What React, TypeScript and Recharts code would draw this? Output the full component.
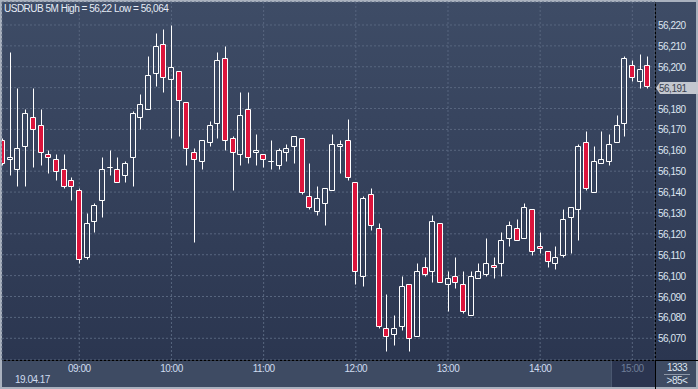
import React from 'react';
import { ComposedChart, Bar, XAxis, YAxis, CartesianGrid, ReferenceLine } from 'recharts';

// 5 minute bars, 19.04.17
const TIMES = [
  '08:10', '08:15', '08:20', '08:25', '08:30', '08:35', '08:40', '08:45', '08:50', '08:55',
  '09:00', '09:05', '09:10', '09:15', '09:20', '09:25', '09:30', '09:35', '09:40', '09:45', '09:50', '09:55',
  '10:00', '10:05', '10:10', '10:15', '10:20', '10:25', '10:30', '10:35', '10:40', '10:45', '10:50', '10:55',
  '11:00', '11:05', '11:10', '11:15', '11:20', '11:25', '11:30', '11:35', '11:40', '11:45', '11:50', '11:55',
  '12:00', '12:05', '12:10', '12:15', '12:20', '12:25', '12:30', '12:35', '12:40', '12:45', '12:50', '12:55',
  '13:00', '13:05', '13:10', '13:15', '13:20', '13:25', '13:30', '13:35', '13:40', '13:45', '13:50', '13:55',
  '14:00', '14:05', '14:10', '14:15', '14:20', '14:25', '14:30', '14:35', '14:40', '14:45', '14:50', '14:55',
  '15:00', '15:05', '15:10',
];

const OPEN = [
  56.165, 56.156, 56.151, 56.162, 56.176, 56.172, 56.158, 56.156, 56.151, 56.146,
  56.141, 56.109, 56.126, 56.136, 56.152, 56.151, 56.148, 56.157, 56.176, 56.180, 56.197, 56.211,
  56.194, 56.198, 56.183, 56.159, 56.155, 56.164, 56.173, 56.204, 56.166, 56.158, 56.180, 56.159,
  56.158, 56.155, 56.153, 56.159, 56.162, 56.166, 56.138, 56.131, 56.135, 56.141, 56.162, 56.165,
  56.145, 56.100, 56.139, 56.123, 56.075, 56.072, 56.076, 56.096, 56.071, 56.104, 56.102, 56.125,
  56.096, 56.100, 56.096, 56.081, 56.099, 56.101, 56.105, 56.106, 56.118, 56.123, 56.118, 56.132,
  56.114, 56.112, 56.106, 56.110, 56.128, 56.132, 56.164, 56.140, 56.154, 56.155, 56.164, 56.173,
  56.201, 56.193, 56.201,
];

const HIGH = [
  56.166, 56.207, 56.190, 56.180, 56.190, 56.180, 56.160, 56.158, 56.158, 56.147,
  56.142, 56.130, 56.135, 56.157, 56.160, 56.157, 56.155, 56.179, 56.187, 56.205, 56.216, 56.218,
  56.220, 56.198, 56.183, 56.161, 56.165, 56.174, 56.207, 56.210, 56.167, 56.188, 56.188, 56.168,
  56.158, 56.165, 56.161, 56.163, 56.167, 56.166, 56.154, 56.143, 56.142, 56.168, 56.165, 56.175,
  56.145, 56.138, 56.142, 56.125, 56.091, 56.081, 56.100, 56.096, 56.106, 56.109, 56.129, 56.125,
  56.102, 56.109, 56.102, 56.102, 56.106, 56.118, 56.109, 56.121, 56.126, 56.127, 56.135, 56.132,
  56.121, 56.112, 56.114, 56.132, 56.133, 56.163, 56.169, 56.162, 56.169, 56.168, 56.177, 56.205,
  56.203, 56.206, 56.205,
];

const LOW = [
  56.153, 56.148, 56.143, 56.143, 56.152, 56.153, 56.149, 56.146, 56.142, 56.136,
  56.106, 56.108, 56.121, 56.128, 56.148, 56.145, 56.145, 56.143, 56.170, 56.180, 56.191, 56.188,
  56.166, 56.167, 56.153, 56.116, 56.151, 56.162, 56.166, 56.160, 56.141, 56.153, 56.154, 56.153,
  56.152, 56.151, 56.151, 56.155, 56.154, 56.139, 56.132, 56.129, 56.124, 56.141, 56.149, 56.146,
  56.096, 56.095, 56.122, 56.075, 56.064, 56.067, 56.074, 56.064, 56.071, 56.100, 56.097, 56.097,
  56.083, 56.094, 56.082, 56.081, 56.099, 56.100, 56.099, 56.100, 56.114, 56.117, 56.118, 56.110,
  56.111, 56.104, 56.103, 56.109, 56.111, 56.117, 56.141, 56.140, 56.154, 56.153, 56.164, 56.167,
  56.193, 56.190, 56.190,
];

const CLOSE = [
  56.154, 56.157, 56.161, 56.178, 56.170, 56.159, 56.157, 56.150, 56.143, 56.143,
  56.108, 56.125, 56.134, 56.151, 56.152, 56.145, 56.154, 56.178, 56.182, 56.196, 56.210, 56.195,
  56.200, 56.184, 56.161, 56.156, 56.165, 56.172, 56.203, 56.165, 56.159, 56.177, 56.157, 56.160,
  56.156, 56.155, 56.160, 56.161, 56.167, 56.140, 56.133, 56.137, 56.142, 56.163, 56.163, 56.147,
  56.102, 56.137, 56.124, 56.076, 56.071, 56.075, 56.095, 56.070, 56.102, 56.101, 56.126, 56.097,
  56.099, 56.097, 56.083, 56.100, 56.102, 56.106, 56.104, 56.117, 56.124, 56.117, 56.133, 56.112,
  56.113, 56.107, 56.109, 56.127, 56.133, 56.162, 56.142, 56.155, 56.156, 56.163, 56.172, 56.204,
  56.195, 56.199, 56.191,
];

const HOUR_TICKS = ['09:00', '10:00', '11:00', '12:00', '13:00', '14:00', '15:00'];
const PRICE_TICKS = [
  56.07, 56.08, 56.09, 56.1, 56.11, 56.12, 56.13, 56.14, 56.15, 56.16, 56.17, 56.18, 56.19, 56.2, 56.21, 56.22,
];

const RED = '#dc143c';
const FONT = '"Liberation Sans", Arial, sans-serif';
const LAST = CLOSE[CLOSE.length - 1];

const data = TIMES.map((time, i) => ({
  idx: i,
  time,
  open: OPEN[i],
  high: HIGH[i],
  low: LOW[i],
  close: CLOSE[i],
}));

const fmt = (v: number) => v.toFixed(3).replace('.', ',');

function Candle(props: any) {
  const { x, y, width, height, payload } = props;
  if (x == null || y == null || !payload) return null;
  const { open, close, high, low } = payload;
  const top = Math.min(y, y + height);
  const h = Math.abs(height);
  const ppu = high === low ? 0 : h / (high - low);
  const py = (v: number) => Math.round(top + (high - v) * ppu) + 0.5;
  const cx = Math.floor(x + width / 2) + 0.5;
  const yH = py(high);
  const yL = py(low);
  const bTop = py(Math.max(open, close));
  const bBot = py(Math.min(open, close));
  const up = close >= open;
  return (
    <g>
      {bTop > yH && <line x1={cx} x2={cx} y1={yH} y2={bTop} stroke="#fff" strokeWidth={1} />}
      {yL > bBot && <line x1={cx} x2={cx} y1={bBot} y2={yL} stroke="#fff" strokeWidth={1} />}
      <path
        d={`M${cx - 3},${bTop}H${cx + 2}V${bBot}H${cx - 3}Z`}
        fill={up ? 'none' : RED}
        stroke="#fff"
        strokeWidth={1}
      />
    </g>
  );
}

function XTick(props: any) {
  const { x, payload } = props;
  const label = TIMES[payload.value];
  const dim = label === HOUR_TICKS[HOUR_TICKS.length - 1];
  return (
    <text x={x} y={372} textAnchor="middle" fontSize={10} letterSpacing={-0.5} fontFamily={FONT}
      fill={dim ? '#6e7d97' : '#cfdcf0'}>
      {label}
    </text>
  );
}

function YTick(props: any) {
  const { x, y, payload } = props;
  // the last price box covers the tick next to it
  if (Math.abs(payload.value - LAST) < 0.004) return <g />;
  return (
    <text x={x} y={y + 4} textAnchor="start" fontSize={10} letterSpacing={-0.5} fontFamily={FONT} fill="#dde5f0">
      {fmt(payload.value)}
    </text>
  );
}

function PriceLabel(props: any) {
  const vb = props.viewBox || {};
  const x0 = vb.x + vb.width + 1;
  const yc = Math.round(vb.y) + 2;
  return (
    <g>
      <path
        d={`M${x0},${yc} L${x0 + 4},${yc - 6} H698 V${yc + 6} H${x0 + 4} Z`}
        fill="#c3c7cf"
      />
      <text x={x0 + 3} y={yc + 4} fontSize={10} letterSpacing={-0.5} fontFamily={FONT} fill="#3a4150">
        {fmt(LAST)}
      </text>
    </g>
  );
}

export default function App() {
  const hourIdx = HOUR_TICKS.map((t) => TIMES.indexOf(t));
  return (
    <div style={{ position: 'absolute', left: 0, top: 0, width: 698, height: 389, background: '#a9b1be', overflow: 'hidden' }}>
      <div style={{ position: 'absolute', left: 2, top: 2, width: 694, height: 358, background: 'linear-gradient(#3e4c66, #2b3650)' }} />
      <div style={{ position: 'absolute', left: 2, top: 361, width: 694, height: 26, background: '#3e4b63' }} />
      <div style={{ position: 'absolute', left: 611, top: 361, width: 44, height: 26, background: '#2b3550', borderLeft: '1px solid #4a5770', boxSizing: 'border-box' }} />
      <div style={{ position: 'absolute', left: 2, top: 360, width: 696, height: 1, background: '#000' }} />
      <div style={{ position: 'absolute', left: 655, top: 2, width: 1, height: 387, background: '#000' }} />

      <div style={{ position: 'absolute', left: 0, top: 0 }}>
        <ComposedChart width={698} height={389} data={data} margin={{ top: 2, right: 2, bottom: 2, left: 2 }}>
          <CartesianGrid stroke="#58667f" strokeDasharray="2 2" />
          <XAxis
            dataKey="idx"
            type="number"
            domain={[-0.06, 84.95]}
            allowDataOverflow
            ticks={hourIdx}
            tick={<XTick />}
            axisLine={false}
            tickLine={false}
            height={27}
            interval={0}
          />
          <YAxis
            orientation="right"
            type="number"
            domain={[56.0596, 56.231]}
            allowDataOverflow
            ticks={PRICE_TICKS}
            tick={<YTick />}
            axisLine={false}
            tickLine={false}
            tickSize={0}
            tickMargin={3}
            width={41}
            interval={0}
          />
          <Bar
            dataKey={(d: any) => [d.low, d.high]}
            barSize={6}
            shape={<Candle />}
            isAnimationActive={false}
          />
          <ReferenceLine y={LAST} stroke="none" strokeOpacity={0} label={<PriceLabel />} />
        </ComposedChart>
      </div>

      <svg width={698} height={389} style={{ position: 'absolute', left: 0, top: 0, pointerEvents: 'none' }}>
        <text x={4} y={12} fontSize={10} letterSpacing={-0.5} fontFamily={FONT} fill="#e6ecf6">
          USDRUB 5M High = 56,22 Low = 56,064
        </text>
        <text x={15} y={383} fontSize={10} letterSpacing={-0.5} fontFamily={FONT} fill="#cfdcf0">
          19.04.17
        </text>
        <text x={677} y={371} textAnchor="middle" fontSize={10} letterSpacing={-0.5} fontFamily={FONT} fill="#dde5f0">
          1333
        </text>
        <line x1={664} x2={690} y1={374.5} y2={374.5} stroke="#8d97a8" />
        <text x={677} y={384} textAnchor="middle" fontSize={10} letterSpacing={-0.5} fontFamily={FONT} fill="#dde5f0">
          {'>85<'}
        </text>
      </svg>
    </div>
  );
}
